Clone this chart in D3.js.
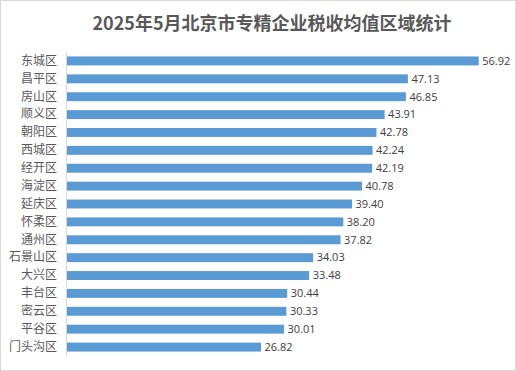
<!DOCTYPE html>
<html><head><meta charset="utf-8">
<script src="https://cdn.jsdelivr.net/npm/d3@7"></script>
<style>body{margin:0;background:#fff}svg{display:block}</style>
</head><body>
<script>
const categories = ["东城区","昌平区","房山区","顺义区","朝阳区","西城区","经开区","海淀区","延庆区","怀柔区","通州区","石景山区","大兴区","丰台区","密云区","平谷区","门头沟区"];
const values = [56.92,47.13,46.85,43.91,42.78,42.24,42.19,40.78,39.40,38.20,37.82,34.03,33.48,30.44,30.33,30.01,26.82];
const title = "2025年5月北京市专精企业税收均值区域统计";

const W = 516, H = 371;
const svg = d3.select("body").append("svg").attr("width", W).attr("height", H);
svg.append("rect").attr("x",0.5).attr("y",0.5).attr("width",W-1).attr("height",H-1)
  .attr("fill","#fff").attr("stroke","#d9d9d9");

svg.append("text").attr("x", 272).attr("y", 30).attr("text-anchor","middle")
  .attr("font-family","'Noto Sans CJK SC', sans-serif").attr("font-weight","bold")
  .attr("font-size", 18).attr("fill","#595959").text(title);

const x = d3.scaleLinear().domain([0,60]).range([67,501]);
const y = d3.scaleBand().domain(categories).range([52,356]).paddingInner(0.5).paddingOuter(0.25);

svg.selectAll("rect.bar").data(values).join("rect").attr("class","bar")
  .attr("x", x(0)).attr("y",(d,i)=>y(categories[i]))
  .attr("width", d=>x(d)-x(0)).attr("height", y.bandwidth())
  .attr("fill","#5b9bd5");

svg.append("line").attr("x1",66.5).attr("x2",66.5).attr("y1",52).attr("y2",356)
  .attr("stroke","#d9d9d9");

const yAxis = d3.axisLeft(y).tickSize(0).tickPadding(9);
const g = svg.append("g").attr("transform","translate(66,0)").call(yAxis);
g.select(".domain").remove();
g.selectAll("text").attr("font-family","'Noto Sans CJK SC', sans-serif").attr("font-size",12).attr("fill","#595959");

svg.selectAll("text.val").data(values).join("text").attr("class","val")
  .attr("x", d=>x(d)+3.5).attr("y",(d,i)=>y(categories[i])+y.bandwidth()/2)
  .attr("dy","0.35em").attr("font-family","'Open Sans', sans-serif").attr("font-size",11)
  .attr("fill","#404040").text(d=>d.toFixed(2));
</script>
</body></html>
